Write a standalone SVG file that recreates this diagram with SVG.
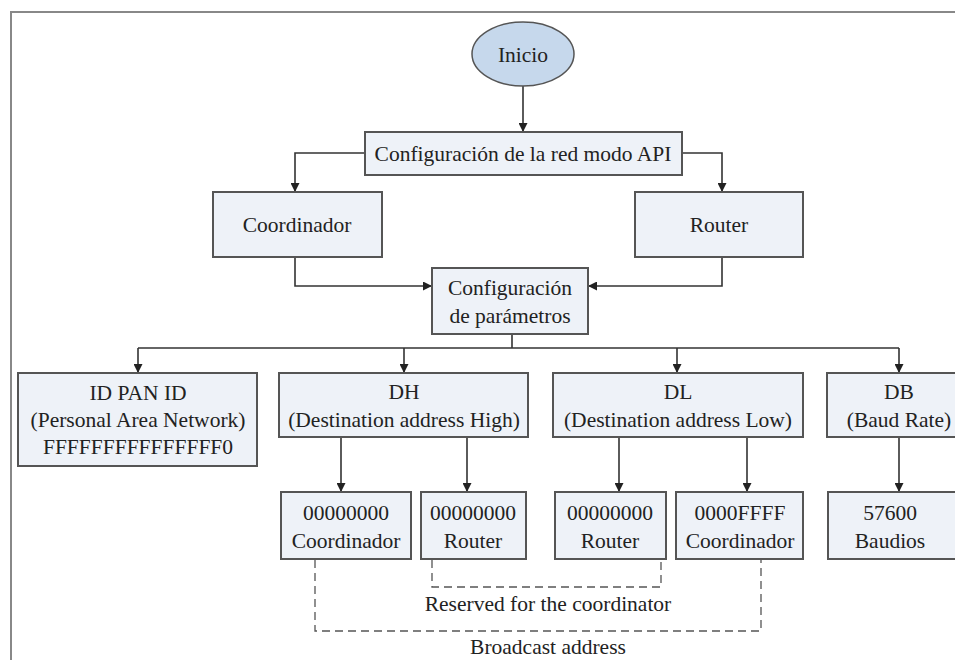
<svg xmlns="http://www.w3.org/2000/svg" width="955" height="660" viewBox="0 0 955 660">
  <defs>
    <marker id="arrow" viewBox="0 0 10 10" refX="10" refY="5" markerWidth="9" markerHeight="9" markerUnits="userSpaceOnUse" orient="auto">
      <path d="M0,0 L10,5 L0,10 Z" fill="#222"/>
    </marker>
  </defs>
  <style>
    .box { fill: #eef2f8; stroke: #555; stroke-width: 2; }
    .start { fill: #c6d8ec; stroke: #555; stroke-width: 1.5; }
    .lbl { font-family: "Liberation Serif", "Times New Roman", serif; font-size: 21.5px; fill: #222; text-anchor: middle; }
    .wire { fill: none; stroke: #333; stroke-width: 1.6; }
    .arr { marker-end: url(#arrow); }
    .dash { fill: none; stroke: #555; stroke-width: 1.3; stroke-dasharray: 8 5; }
  </style>

  <rect width="955" height="660" fill="#ffffff"/>
  <!-- outer frame -->
  <path d="M11,660 L11,12 L960,12" fill="none" stroke="#888" stroke-width="2"/>

  <!-- connectors -->
  <g id="connectors">
    <path class="wire arr" d="M523,86 L523,132"/>
    <path class="wire arr" d="M365,153 L295,153 L295,192"/>
    <path class="wire arr" d="M682,153 L722,153 L722,192"/>
    <path class="wire arr" d="M295,257 L295,286 L432,286"/>
    <path class="wire arr" d="M722,257 L722,286 L588,286"/>
    <path class="wire" d="M512,334 L512,348"/>
    <path class="wire" d="M138,348 L899,348"/>
    <path class="wire arr" d="M138,348 L138,373"/>
    <path class="wire arr" d="M404,348 L404,373"/>
    <path class="wire arr" d="M677,348 L677,373"/>
    <path class="wire arr" d="M899,348 L899,373"/>
    <path class="wire arr" d="M341,437 L341,492"/>
    <path class="wire arr" d="M467,437 L467,492"/>
    <path class="wire arr" d="M619,437 L619,492"/>
    <path class="wire arr" d="M747,437 L747,492"/>
    <path class="wire arr" d="M899,437 L899,492"/>
    <path class="dash" d="M432,560 L432,587 L661,587 L661,560"/>
    <path class="dash" d="M315,560 L315,631 L761,631 L761,560"/>
  </g>

  <g id="inicio">
    <ellipse class="start" cx="523" cy="54" rx="51" ry="32"/>
    <text class="lbl" x="523" y="62">Inicio</text>
  </g>

  <g id="config-red">
    <rect class="box" x="365" y="132" width="317" height="43"/>
    <text class="lbl" x="523" y="161">Configuración de la red modo API</text>
  </g>

  <g id="coordinador">
    <rect class="box" x="213" y="192" width="169" height="65"/>
    <text class="lbl" x="297" y="232">Coordinador</text>
  </g>

  <g id="router">
    <rect class="box" x="635" y="192" width="168" height="65"/>
    <text class="lbl" x="719" y="232">Router</text>
  </g>

  <g id="config-param">
    <rect class="box" x="432" y="268" width="156" height="66"/>
    <text class="lbl" x="510" y="295">Configuración</text>
    <text class="lbl" x="510" y="323">de parámetros</text>
  </g>

  <g id="pan-id">
    <rect class="box" x="18" y="373" width="239" height="93"/>
    <text class="lbl" x="138" y="400">ID PAN ID</text>
    <text class="lbl" x="138" y="427">(Personal Area Network)</text>
    <text class="lbl" x="138" y="454">FFFFFFFFFFFFFFF0</text>
  </g>

  <g id="dh">
    <rect class="box" x="279" y="373" width="249" height="64"/>
    <text class="lbl" x="404" y="399">DH</text>
    <text class="lbl" x="404" y="427">(Destination address High)</text>
  </g>

  <g id="dl">
    <rect class="box" x="553" y="373" width="250" height="64"/>
    <text class="lbl" x="678" y="399">DL</text>
    <text class="lbl" x="678" y="427">(Destination address Low)</text>
  </g>

  <g id="db">
    <rect class="box" x="827" y="373" width="140" height="64"/>
    <text class="lbl" x="899" y="399">DB</text>
    <text class="lbl" x="899" y="427">(Baud Rate)</text>
  </g>

  <g id="dh-coordinador">
    <rect class="box" x="281" y="492" width="130" height="67"/>
    <text class="lbl" x="346" y="520">00000000</text>
    <text class="lbl" x="346" y="548">Coordinador</text>
  </g>

  <g id="dh-router">
    <rect class="box" x="421" y="492" width="105" height="67"/>
    <text class="lbl" x="473" y="520">00000000</text>
    <text class="lbl" x="473" y="548">Router</text>
  </g>

  <g id="dl-router">
    <rect class="box" x="555" y="492" width="111" height="67"/>
    <text class="lbl" x="610" y="520">00000000</text>
    <text class="lbl" x="610" y="548">Router</text>
  </g>

  <g id="dl-coordinador">
    <rect class="box" x="676" y="492" width="127" height="67"/>
    <text class="lbl" x="740" y="520">0000FFFF</text>
    <text class="lbl" x="740" y="548">Coordinador</text>
  </g>

  <g id="db-baudios">
    <rect class="box" x="828" y="492" width="140" height="67"/>
    <text class="lbl" x="890" y="520">57600</text>
    <text class="lbl" x="890" y="548">Baudios</text>
  </g>

  <text class="lbl" x="548" y="611">Reserved for the coordinator</text>
  <text class="lbl" x="548" y="654">Broadcast address</text>
</svg>
